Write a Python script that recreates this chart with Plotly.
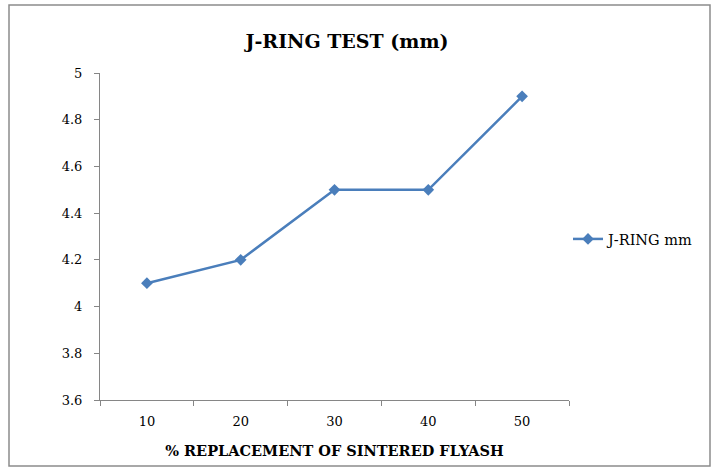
import plotly.graph_objects as go

categories = ["10", "20", "30", "40", "50"]
values = [4.1, 4.2, 4.5, 4.5, 4.9]
series_name = "J-RING mm"
y_ticks = [3.6, 3.8, 4.0, 4.2, 4.4, 4.6, 4.8, 5.0]
y_tick_labels = ["3.6", "3.8", "4", "4.2", "4.4", "4.6", "4.8", "5"]

W, H = 714, 468
L, R, T, B = 100, 145, 73, 68
pw, ph = W - L - R, H - T - B

def px_x(x):
    return (x - L) / pw

def px_y(y):
    return (H - B - y) / ph

fig = go.Figure()
fig.add_trace(go.Scatter(
    x=categories, y=values, mode="lines+markers", name=series_name,
    line=dict(color="#4a7ebb", width=2.5),
    marker=dict(symbol="diamond", size=9, color="#4a7ebb"),
))

font = "'DejaVu Serif', serif"
fig.update_layout(
    width=W, height=H,
    margin=dict(l=L, r=R, t=T, b=B, autoexpand=False),
    paper_bgcolor="white", plot_bgcolor="white",
    font=dict(family=font, size=13, color="#000"),
    title=dict(text="<b>J-RING TEST (mm)</b>", x=px_x(347), xref="paper", xanchor="center",
               y=1 - 41 / H, yanchor="middle", font=dict(size=19, family=font, color="#000")),
    showlegend=True,
    legend=dict(x=px_x(568), y=px_y(239), xref="paper", yref="paper", xanchor="left", yanchor="middle",
                font=dict(size=14.5, family=font, color="#000"), bgcolor="rgba(0,0,0,0)"),
    xaxis=dict(type="category", range=[-0.5, 4.5], showline=True, linecolor="#868686", linewidth=1,
               ticks="outside", tickson="boundaries", ticklen=5, tickcolor="#868686",
               showgrid=False, zeroline=False, tickfont=dict(size=13, family=font, color="#000"),
               ticklabelstandoff=9, automargin=False,
               title=dict(text="<b>% REPLACEMENT OF SINTERED FLYASH</b>",
                          font=dict(size=14.5, family=font, color="#000"), standoff=18)),
    yaxis=dict(range=[3.6, 5.0], tickvals=y_ticks, ticktext=y_tick_labels, showline=True,
               linecolor="#868686", linewidth=1, ticks="outside", ticklen=5, tickcolor="#868686",
               showgrid=False, zeroline=False, tickfont=dict(size=13, family=font, color="#000"),
               ticklabelstandoff=9, automargin=False),
)

fig.add_shape(type="rect", xref="paper", yref="paper",
              x0=px_x(9), x1=px_x(710), y0=px_y(466), y1=px_y(5),
              line=dict(color="#8c8c8c", width=1.5), fillcolor="rgba(0,0,0,0)", layer="below")

fig.write_html("out.html")
